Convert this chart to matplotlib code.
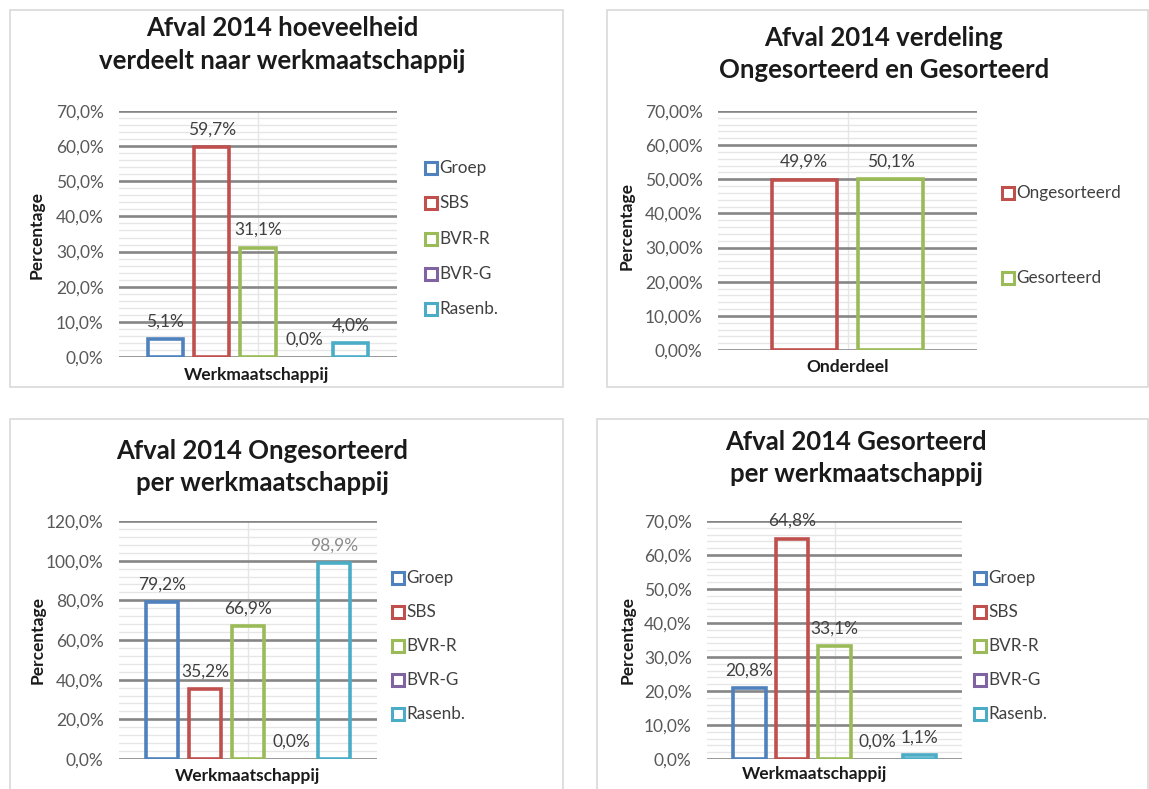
import matplotlib
matplotlib.use("Agg")
import matplotlib.pyplot as plt
from matplotlib.lines import Line2D
from matplotlib.patches import Rectangle
from matplotlib.ticker import FuncFormatter, MultipleLocator

plt.rcParams["font.family"] = ["Lato", "DejaVu Sans"]

W, H = 1149, 789

companies = ["Groep", "SBS", "BVR-R", "BVR-G", "Rasenb."]
company_colors = ["#4F81BD", "#C0504D", "#9BBB59", "#8064A2", "#4BACC6"]

hoeveelheid = [5.1, 59.7, 31.1, 0.0, 4.0]
ongesorteerd = [79.2, 35.2, 66.9, 0.0, 98.9]
gesorteerd = [20.8, 64.8, 33.1, 0.0, 1.1]

onderdelen = ["Ongesorteerd", "Gesorteerd"]
onderdeel_colors = ["#C0504D", "#9BBB59"]
verdeling = [49.9, 50.1]

fig = plt.figure(figsize=(W / 100, H / 100), dpi=100)


def fx(x):
    return x / W


def fy(y):
    return 1 - y / H


def box(x0, y0, x1, y1):
    fig.add_artist(Rectangle((fx(x0), fy(y1)), (x1 - x0) / W, (y1 - y0) / H,
                             transform=fig.transFigure, fill=False,
                             edgecolor="#d9d9d9", linewidth=1.2))


def fmt(v, dec):
    return ("{:.%df}" % dec).format(v).replace(".", ",") + "%"


def panel(rect, values, colors, labels, ymax, major, minor, dec,
          title, title_y, title_x, xlabel, xlabel_pos, ylabel_pos,
          legend_x, legend_ys, label_colors=None):
    x0, y0, x1, y1 = rect
    ax = fig.add_axes([fx(x0), fy(y1), (x1 - x0) / W, (y1 - y0) / H])
    n = len(values)
    pos = list(range(n))
    # Excel draws no outline for an empty (0 %) bar
    edges = [c if v > 0 else "none" for v, c in zip(values, colors)]
    bars = ax.bar(pos, values, width=0.76, facecolor="none",
                  edgecolor=edges, linewidth=2.6, zorder=3)
    txts = ax.bar_label(bars, labels=[fmt(v, 1) for v in values],
                        padding=7, fontsize=12.5, color="#404040")
    if label_colors:
        for t, c in zip(txts, label_colors):
            t.set_color(c)
    ax.set_xlim(-1.0, n)
    ax.set_ylim(0, ymax)
    ax.yaxis.set_major_locator(MultipleLocator(major))
    ax.yaxis.set_minor_locator(MultipleLocator(minor))
    ax.yaxis.set_major_formatter(FuncFormatter(lambda v, p: fmt(v, dec)))
    ax.grid(which="major", axis="y", color="#868686", linewidth=1.9, zorder=1)
    ax.grid(which="minor", axis="y", color="#e6e6e6", linewidth=1.0, zorder=0)
    ax.axvline((n - 1) / 2, color="#e6e6e6", linewidth=1.0, zorder=0)
    ax.set_axisbelow(True)
    ax.set_xticks([])
    ax.tick_params(axis="y", which="both", length=0, labelsize=12.5,
                   labelcolor="#595959", pad=11)
    for s in ax.spines.values():
        s.set_visible(False)

    for line, ty in zip(title, title_y):
        fig.text(fx(title_x), fy(ty), line, ha="center", va="center",
                 fontsize=18.5, fontweight="bold", color="#1a1a1a")
    fig.text(fx(xlabel_pos[0]), fy(xlabel_pos[1]), xlabel, ha="center",
             va="center", fontsize=12.5, fontweight="bold", color="#1a1a1a")
    fig.text(fx(ylabel_pos[0]), fy(ylabel_pos[1]), "Percentage", ha="center",
             va="center", rotation=90, fontsize=12.5, fontweight="bold",
             color="#1a1a1a")
    for lab, c, ly in zip(labels, colors, legend_ys):
        fig.add_artist(Line2D([fx(legend_x)], [fy(ly)], marker="s",
                              markersize=8, markerfacecolor="white",
                              markeredgecolor=c, markeredgewidth=2.2,
                              transform=fig.transFigure))
        fig.text(fx(legend_x + 8), fy(ly), lab, ha="left", va="center",
                 fontsize=12.3, color="#404040")
    return ax


box(10, 10, 563, 387)
box(607, 10, 1148, 387)
box(10, 419, 563, 795)
box(597, 419, 1148, 795)

legend_rows = [168, 203, 239, 274, 309]
legend_rows_b = [578, 612, 646, 680, 714]

panel((119, 111, 397, 357), hoeveelheid, company_colors, companies, 70, 10, 2, 1,
      ("Afval 2014 hoeveelheid", "verdeelt naar werkmaatschappij"), (28, 61), 282,
      "Werkmaatschappij", (257, 375), (37, 235), 431, legend_rows)

panel((718, 111, 977, 350), verdeling, onderdeel_colors, onderdelen, 70, 10, 2, 2,
      ("Afval 2014 verdeling", "Ongesorteerd en Gesorteerd"), (38, 70), 884,
      "Onderdeel", (848, 367), (627, 226), 1008, [193, 278])

panel((119, 521, 377, 759), ongesorteerd, company_colors, companies, 120, 20, 4, 1,
      ("Afval 2014 Ongesorteerd", "per werkmaatschappij"), (451, 483), 262,
      "Werkmaatschappij", (248, 776), (38, 640), 398, legend_rows_b,
      label_colors=["#404040"] * 4 + ["#8c8c8c"])

panel((707, 521, 962, 759), gesorteerd, company_colors, companies, 70, 10, 2, 1,
      ("Afval 2014 Gesorteerd", "per werkmaatschappij"), (442, 474), 856,
      "Werkmaatschappij", (815, 774), (628, 640), 980, legend_rows_b)

fig.savefig("out.png", dpi=100, facecolor="white")
